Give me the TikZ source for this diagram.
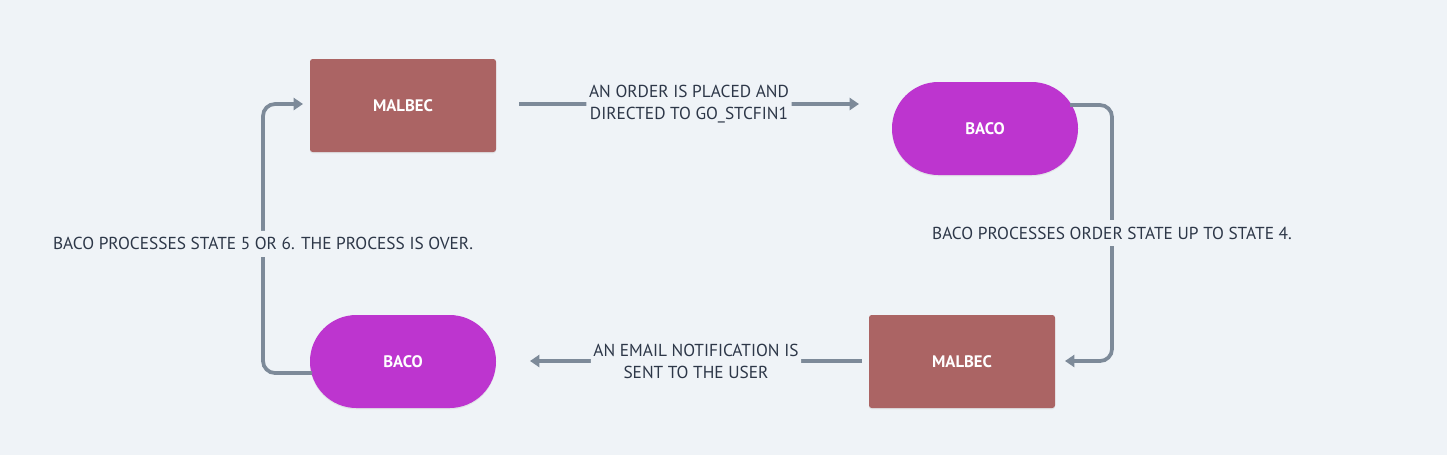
\documentclass[tikz,border=0pt]{standalone}
\usepackage{fontspec}
\setmainfont{PT Sans}
\usetikzlibrary{arrows.meta,shadows}
\definecolor{bg}{HTML}{EFF3F7}
\definecolor{malbec}{HTML}{AB6464}
\definecolor{baco}{HTML}{BD35CF}
\definecolor{edge}{HTML}{7D8A99}
\definecolor{txt}{HTML}{2D3748}
\tikzset{
  x=0.75pt, y=-0.75pt,
  boxnode/.style={draw=none, fill=malbec, rounded corners=2pt, minimum width=139.5pt, minimum height=69.75pt,
    text=white, font=\bfseries\fontsize{12.5}{15}\selectfont, drop shadow={opacity=0.12, shadow xshift=0pt, shadow yshift=-1pt}},
  pillnode/.style={draw=none, fill=baco, rounded corners=34.8pt, minimum width=139.5pt, minimum height=69.75pt,
    text=white, font=\bfseries\fontsize{12.5}{15}\selectfont, drop shadow={opacity=0.12, shadow xshift=0pt, shadow yshift=-1pt}},
  conn/.style={draw=edge, line width=2.8pt, rounded corners=9pt, -{Triangle[length=7pt,width=9pt]}},
  lbl/.style={fill=bg, text=txt, font=\fontsize{13}{16.5}\selectfont, align=center, inner sep=2pt},
}
\begin{document}
\begin{tikzpicture}
\fill[bg] (0,0) rectangle (1447,455);
\useasboundingbox (0,0) rectangle (1447,455);
\node[boxnode] (m1) at (403,105.5) {MALBEC};
\node[pillnode] (b1) at (985,128.5) {BACO};
\node[boxnode] (m2) at (962,361.5) {MALBEC};
\node[pillnode] (b2) at (403,361.5) {BACO};
\coordinate (t1) at (519,104);
\coordinate (t2) at (859,104);
\draw[conn] (t1) -- node[lbl] {AN ORDER IS PLACED AND\\DIRECTED TO GO\_STCFIN1} (t2);
\coordinate (r0) at (1070,105);
\coordinate (r1) at (1112,105);
\coordinate (r2) at (1112,361);
\coordinate (r3) at (1065,361);
\draw[conn] (r0) -- (r1) -- node[lbl, inner ysep=5pt] {BACO PROCESSES ORDER STATE UP TO STATE 4.} (r2) -- (r3);
\coordinate (u1) at (862,361);
\coordinate (u2) at (530,361);
\draw[conn] (u1) -- node[lbl] {AN EMAIL NOTIFICATION IS\\SENT TO THE USER} (u2);
\coordinate (l0) at (312,373);
\coordinate (l1) at (263,373);
\coordinate (l2) at (263,104);
\coordinate (l3) at (303,104);
\draw[conn] (l0) -- (l1) -- node[lbl, inner ysep=5pt, pos=0.48] {BACO PROCESSES STATE 5 OR 6. THE PROCESS IS OVER.} (l2) -- (l3);
\end{tikzpicture}
\end{document}
